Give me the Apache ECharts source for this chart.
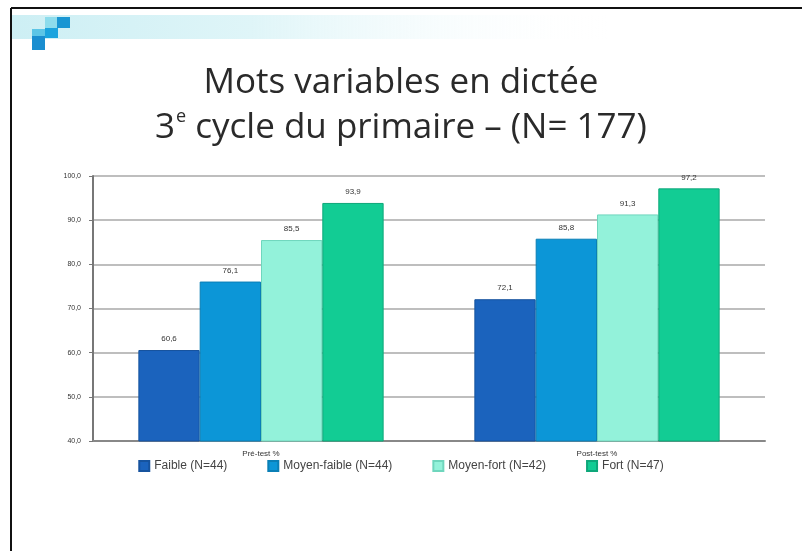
<!DOCTYPE html>
<html>
<head>
<meta charset="utf-8">
<script src="https://cdn.jsdelivr.net/npm/echarts@6/dist/echarts.min.js"></script>
<style>
html, body { margin: 0; padding: 0; background: #fff; }
#main { width: 802px; height: 551px; }
</style>
</head>
<body>
<div id="main"></div>
<script>
// categories and series
var categories = ['Pré-test %', 'Post-test %'];
var seriesNames = ['Faible (N=44)', 'Moyen-faible (N=44)', 'Moyen-fort (N=42)', 'Fort (N=47)'];
var faible = [60.6, 72.1];
var moyenFaible = [76.1, 85.8];
var moyenFort = [85.5, 91.3];
var fort = [93.9, 97.2];
var colors = ['#1b63bd', '#0c96d7', '#93f2da', '#12cc94'];
var borders = ['#16539e', '#0a7fb6', '#6fd6bd', '#0ea77a'];

function comma(v) {
	return v.toFixed(1).replace('.', ',');
}

var allData = [faible, moyenFaible, moyenFort, fort];
var series = [];
for (var i = 0; i < seriesNames.length; i++) {
	series.push({
		name: seriesNames[i],
		type: 'bar',
		data: allData[i],
		barGap: '0%',
		barCategoryGap: '27%',
		itemStyle: { color: colors[i], borderColor: borders[i], borderWidth: 1 },
		label: {
			show: true,
			position: 'top',
			distance: 7,
			fontSize: 8,
			color: '#333',
			fontFamily: 'Liberation Sans',
			formatter: function(p) { return comma(p.value); }
		}
	});
}

var myChart = echarts.init(document.getElementById('main'));
var option = {
	animation: false,
	color: colors,
	title: {
		text: 'Mots variables en dictée\n3{sup|e} cycle du primaire – (N= 177)',
		left: 'center',
		top: 56,
		textStyle: {
			fontFamily: 'Open Sans',
			fontWeight: 'normal',
			fontSize: 35,
			color: '#2a2a2a',
			lineHeight: 45,
			rich: {
				sup: { fontSize: 18, lineHeight: 20, verticalAlign: 'top', padding: [2, 0, 0, 1], fontFamily: 'Open Sans', color: '#2a2a2a' }
			}
		}
	},
	grid: { left: 93, right: 37, top: 176, bottom: 110 },
	legend: {
		data: seriesNames,
		top: 455,
		left: 'center',
		itemWidth: 10,
		itemHeight: 10,
		itemGap: 40,
		icon: 'rect',
		textStyle: { fontSize: 12, color: '#444', fontFamily: 'Liberation Sans' }
	},
	xAxis: {
		type: 'category',
		data: categories,
		axisLine: { lineStyle: { color: '#888', width: 2 } },
		axisTick: { show: false },
		axisLabel: { fontSize: 8, color: '#333', margin: 9, fontFamily: 'Liberation Sans' }
	},
	yAxis: {
		type: 'value',
		min: 40,
		max: 100,
		interval: 10,
		axisLine: { show: true, lineStyle: { color: '#777', width: 2 } },
		axisTick: { show: true, length: 4, lineStyle: { color: '#777' } },
		axisLabel: {
			fontSize: 7,
			color: '#333',
			margin: 12,
			fontFamily: 'Liberation Sans',
			formatter: function(v) { return comma(v); }
		},
		splitLine: { lineStyle: { color: '#a8a8a8', width: 1.5 } }
	},
	graphic: [
		// slide frame
		{ type: 'line', shape: { x1: 11, y1: 8, x2: 802, y2: 8 }, style: { stroke: '#111', lineWidth: 2 } },
		{ type: 'line', shape: { x1: 11, y1: 8, x2: 11, y2: 551 }, style: { stroke: '#111', lineWidth: 2 } },
		// decoration band
		{
			type: 'rect', shape: { x: 12, y: 15, width: 600, height: 24 },
			style: {
				fill: new echarts.graphic.LinearGradient(0, 0, 1, 0, [
					{ offset: 0, color: '#cdeff4' },
					{ offset: 0.4, color: '#dff5f8' },
					{ offset: 1, color: 'rgba(255,255,255,0)' }
				])
			}
		},
		{ type: 'rect', shape: { x: 45, y: 17, width: 12, height: 11 }, style: { fill: '#8ddcec' } },
		{ type: 'rect', shape: { x: 57, y: 17, width: 13, height: 11 }, style: { fill: '#1996d3' } },
		{ type: 'rect', shape: { x: 45, y: 28, width: 13, height: 10 }, style: { fill: '#1ba4de' } },
		{ type: 'rect', shape: { x: 32, y: 36, width: 13, height: 14 }, style: { fill: '#1a8ed0' } },
		{ type: 'rect', shape: { x: 32, y: 29, width: 13, height: 7 }, style: { fill: '#5cc5e6' } }
	],
	series: series
};
myChart.setOption(option);
</script>
</body>
</html>
